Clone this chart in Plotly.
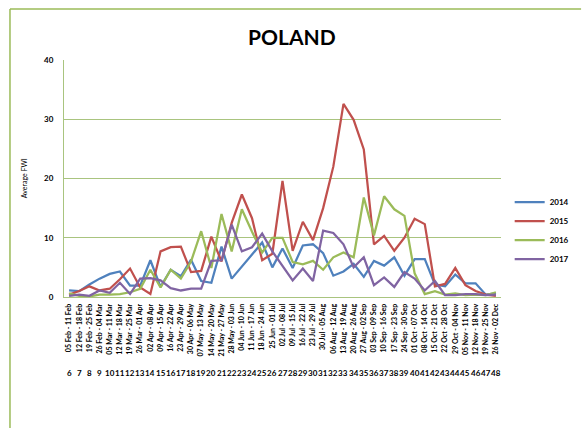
import plotly.graph_objects as go

weeks = list(range(6, 49))
date_labels = [
    "05 Feb - 11 Feb", "12 Feb - 18 Feb", "19 Feb - 25 Feb", "26 Feb - 04 Mar",
    "05 Mar - 11 Mar", "12 Mar - 18 Mar", "19 Mar - 25 Mar", "26 Mar - 01 Apr",
    "02 Apr - 08 Apr", "09 Apr - 15 Apr", "16 Apr - 22 Apr", "23 Apr - 29 Apr",
    "30 Apr - 06 May", "07 May - 13 May", "14 May - 20 May", "21 May - 27 May",
    "28 May - 03 Jun", "04 Jun - 10 Jun", "11 Jun - 17 Jun", "18 Jun - 24 Jun",
    "25 Jun - 01 Jul", "02 Jul - 08 Jul", "09 Jul - 15 Jul", "16 Jul - 22 Jul",
    "23 Jul - 29 Jul", "30 Jul - 05 Aug", "06 Aug - 12 Aug", "13 Aug - 19 Aug",
    "20 Aug - 26 Aug", "27 Aug - 02 Sep", "03 Sep - 09 Sep", "10 Sep - 16 Sep",
    "17 Sep - 23 Sep", "24 Sep - 30 Sep", "01 Oct - 07 Oct", "08 Oct - 14 Oct",
    "15 Oct - 21 Oct", "22 Oct - 28 Oct", "29 Oct - 04 Nov", "05 Nov - 11 Nov",
    "12 Nov - 18 Nov", "19 Nov - 25 Nov", "26 Nov - 02 Dec",
]

fwi_2014 = [1.1, 1.0, 2.1, 3.1, 3.9, 4.3, 1.9, 1.9, 6.2, 1.7, 4.6, 3.5, 6.3, 2.7, 2.4,
            8.5, 3.1, 5.2, 7.2, 9.2, 5.0, 8.2, 4.9, 8.7, 8.9, 7.4, 3.6, 4.3, 5.6, 3.4,
            6.1, 5.3, 6.7, 3.6, 6.4, 6.4, 2.1, 1.8, 3.8, 2.3, 2.3, 0.4, 0.6]
fwi_2015 = [0.4, 1.0, 1.8, 1.1, 1.4, 3.0, 4.8, 1.6, 0.5, 7.7, 8.4, 8.5, 4.2, 4.4, 10.2,
            6.0, 12.5, 17.3, 13.3, 6.2, 7.3, 19.6, 7.8, 12.7, 9.6, 15.0, 22.0, 32.6, 29.9, 24.9,
            8.9, 10.3, 7.8, 10.0, 13.2, 12.3, 1.8, 2.2, 4.9, 2.0, 1.0, 0.4, 0.2]
fwi_2016 = [0.6, 0.2, 0.1, 0.4, 0.4, 0.5, 0.8, 1.4, 4.6, 1.6, 4.6, 3.1, 6.0, 11.1, 4.9,
            14.0, 7.7, 14.8, 11.0, 7.5, 10.0, 10.0, 5.9, 5.5, 6.1, 4.6, 6.7, 7.5, 6.7, 16.8,
            10.4, 17.0, 14.8, 13.7, 4.0, 0.5, 1.0, 0.4, 0.6, 0.3, 0.4, 0.3, 0.8]
fwi_2017 = [0.2, 0.4, 0.2, 1.1, 0.7, 2.4, 0.5, 3.1, 3.2, 2.8, 1.5, 1.1, 1.4, 1.4, 6.1,
            6.2, 12.2, 7.7, 8.4, 10.7, 7.7, 5.3, 2.8, 4.8, 2.7, 11.2, 10.8, 8.9, 5.0, 6.7,
            2.0, 3.3, 1.7, 4.2, 3.1, 1.1, 2.7, 0.3, 0.3, 0.5, 0.5, 0.3, 0.4]

series = [
    ("2014", fwi_2014, "#4F81BD"),
    ("2015", fwi_2015, "#C0504D"),
    ("2016", fwi_2016, "#9BBB59"),
    ("2017", fwi_2017, "#8064A2"),
]

y_ticks = [0, 10, 20, 30, 40]

GRID = "#A9C47F"
FONT = "Lato"

fig = go.Figure()
for name, vals, col in series:
    fig.add_trace(go.Scatter(x=weeks, y=vals, mode="lines", name=name,
                             line=dict(color=col, width=2.25)))

# plot area in pixels: x 64..517, y 60..297.5
L, R, T, B = 64, 517, 60, 297.5
W, H = 586, 428
PW, PH = R - L, B - T

def px(x):
    return (x - L) / PW

def py(y):
    return (B - y) / PH

fig.update_layout(
    width=W, height=H,
    margin=dict(l=L, r=W - R, t=T, b=H - B),
    paper_bgcolor="white", plot_bgcolor="white",
    font=dict(family=FONT, color="black"),
    showlegend=True,
    legend=dict(x=px(526), y=py(188), xanchor="left", yanchor="top",
                font=dict(size=8, family=FONT, weight="bold"),
                tracegroupgap=0, itemwidth=30, bgcolor="rgba(0,0,0,0)"),
)

fig.update_xaxes(
    range=[5.5, 48.5], tickmode="array", tickvals=weeks, ticktext=date_labels,
    tickangle=-90, tickfont=dict(size=7, family=FONT, weight="bold"),
    showgrid=False, showline=True, linecolor=GRID, linewidth=1,
    ticks="outside", ticklen=3, tickcolor="rgba(0,0,0,0)", zeroline=False,
)
fig.update_yaxes(
    range=[0, 40], tickmode="array", tickvals=y_ticks,
    tickfont=dict(size=8, family=FONT, weight="bold"),
    showgrid=True, gridcolor=GRID, gridwidth=1,
    showline=True, linecolor=GRID, linewidth=1, zeroline=False,
    ticks="outside", ticklen=8, tickcolor="rgba(0,0,0,0)",
)

# title
fig.add_annotation(text="<b>POLAND</b>", x=px(300), y=py(36), xref="paper", yref="paper",
                   showarrow=False, font=dict(size=21, family=FONT), xanchor="center", yanchor="middle")
# y-axis title
fig.add_annotation(text="Average FWI", x=px(22), y=py(178), xref="paper", yref="paper",
                   showarrow=False, textangle=-90, font=dict(size=7, family=FONT),
                   xanchor="center", yanchor="middle")
# week numbers row
for w in weeks:
    fig.add_annotation(text=f"<b>{w}</b>", x=w, y=py(374), xref="x", yref="paper",
                       showarrow=False, font=dict(size=8, family=FONT),
                       xanchor="center", yanchor="middle")

# chart border (top and left visible)
fig.add_shape(type="line", xref="paper", yref="paper", x0=px(8), x1=px(600), y0=py(9), y1=py(9),
              line=dict(color="#9BBB59", width=1.5))
fig.add_shape(type="line", xref="paper", yref="paper", x0=px(8), x1=px(8), y0=py(9), y1=py(440),
              line=dict(color="#9BBB59", width=1.5))

fig.write_html("out.html")
